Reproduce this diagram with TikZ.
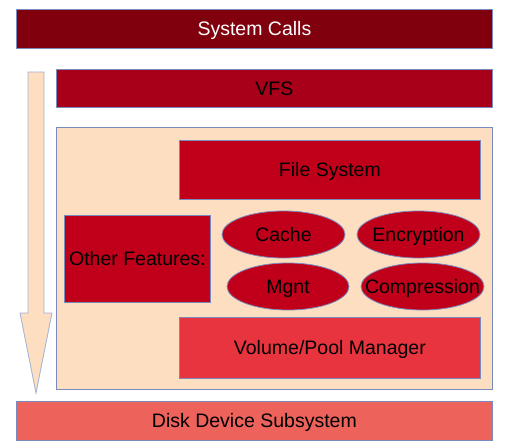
\documentclass[tikz,border=0pt]{standalone}
\usepackage{fontspec}
\setmainfont{Liberation Sans}
\usetikzlibrary{shapes.geometric}
\definecolor{dred}{RGB}{128,0,14}
\definecolor{vred}{RGB}{168,0,24}
\definecolor{mred}{RGB}{192,0,26}
\definecolor{lred}{RGB}{232,52,62}
\definecolor{pred}{RGB}{238,98,92}
\definecolor{peach}{RGB}{253,222,192}
\definecolor{edge}{RGB}{120,138,190}
\definecolor{aedge}{RGB}{160,178,214}
\begin{document}
\begin{tikzpicture}[x=1pt,y=-1pt,
  txt/.style={font=\fontsize{19.5}{22}\selectfont,text height=14pt,text depth=0pt},
  layer/.style={draw=edge,line width=0.8pt,rectangle,inner sep=0pt,anchor=north west,txt},
  feat/.style={draw=edge,line width=0.8pt,ellipse,fill=mred,inner sep=0pt,minimum height=47pt}]
\useasboundingbox (0,0) rectangle (509,447);
\node[layer,fill=dred,text=white,minimum width=476pt,minimum height=39pt] (sys) at (16,9) {System Calls};
\node[layer,fill=vred,minimum width=436pt,minimum height=38pt] (vfs) at (56,69) {VFS};
\node[layer,fill=peach,minimum width=436pt,minimum height=262pt] (cont) at (56,127) {};
\node[layer,fill=mred,minimum width=301pt,minimum height=59pt] (fs) at (179,140) {File System};
\node[layer,fill=mred,minimum width=146pt,minimum height=87pt] (other) at (64,215) {Other Features:};
\node[feat,minimum width=123pt,label={[txt,inner sep=0pt]center:Cache}] (cache) at (283.5,234.5) {};
\node[feat,minimum width=123pt,label={[txt,inner sep=0pt]center:Encryption}] (enc) at (418.5,234.5) {};
\node[feat,minimum width=122pt,label={[txt,inner sep=0pt]center:Mgnt}] (mgnt) at (288,286.5) {};
\node[feat,minimum width=123pt,label={[txt,inner sep=0pt]center:Compression}] (comp) at (422.5,286.5) {};
\node[layer,fill=lred,minimum width=301pt,minimum height=61pt] (vol) at (179,317) {Volume/Pool Manager};
\node[layer,fill=pred,minimum width=476pt,minimum height=39pt] (disk) at (16,401) {Disk Device Subsystem};
\draw[draw=aedge,fill=peach,line width=0.8pt] (28,72) -- (44,72) -- (44,313) -- (52,313) -- (36,393) -- (20,313) -- (28,313) -- cycle;
\end{tikzpicture}
\end{document}
